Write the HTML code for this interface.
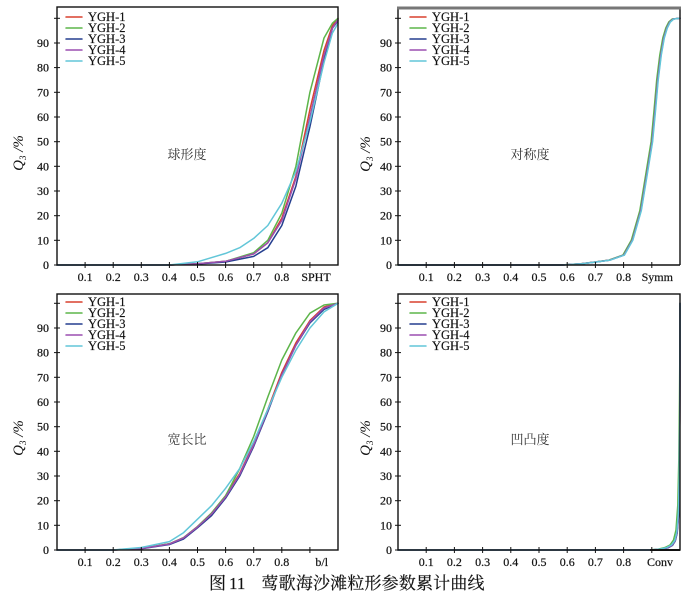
<!DOCTYPE html>
<html><head><meta charset="utf-8"><style>
html,body{margin:0;padding:0;background:#fff;}
svg{display:block;}
text{font-family:"Liberation Serif","Noto Serif CJK SC",serif;fill:#111;}
.tk{font-size:12px;stroke:#111;stroke-width:0.2;}
.lg{font-size:12.5px;stroke:#111;stroke-width:0.15;}
.cn{font-size:13px;fill:#333;font-family:"Liberation Serif","Noto Serif CJK SC",serif;}
.ax{stroke:#111;stroke-width:1.4;fill:none;}
.t{stroke:#111;stroke-width:1;}
.c{fill:none;stroke-width:1.5;stroke-linejoin:round;stroke-linecap:round;}
.r{stroke:#d9412f}.g{stroke:#5db54a}.b{stroke:#253f8f}.p{stroke:#9b4fb0}.y{stroke:#62c6d8}
</style></head><body>
<svg width="697" height="594" viewBox="0 0 697 594" xmlns="http://www.w3.org/2000/svg">

<!-- ============ TOP LEFT: SPHT ============ -->
<g>
<polyline class="c r" points="57,265 169.4,265 197.5,263.8 225.6,261.3 253.7,253.9 267.8,242.8 281.8,218.1 295.9,176.2 309.9,109.6 324,50.4 332.4,25.7 338,18.3"/>
<polyline class="c g" points="57,265 169.4,265 197.5,263.8 225.6,261.3 253.7,252.7 267.8,240.3 281.8,213.2 295.9,166.3 309.9,92.3 324,38 332.4,23.2 338,18.3"/>
<polyline class="c b" points="57,265 169.4,265 197.5,264 225.6,262 253.7,256.4 267.8,247.7 281.8,225.5 295.9,186.1 309.9,126.8 324,60.2 332.4,28.2 338,20.8"/>
<polyline class="c p" points="57,265 169.4,265 197.5,263.8 225.6,261.3 253.7,253.9 267.8,242.8 281.8,220.6 295.9,178.7 309.9,117 324,55.3 332.4,28.2 338,19.5"/>
<polyline class="c y" points="57,265 169.4,265 197.5,261.8 225.6,253.4 239.7,247.7 253.7,238.4 267.8,225.5 281.8,203.3 295.9,171.3 309.9,121.9 324,62.7 332.4,33.1 338,23.2"/>
<rect class="ax" x="57" y="7" width="281" height="258"/>
<g class="t">
<line x1="54" y1="265" x2="60" y2="265"/><line x1="54" y1="240.3" x2="60" y2="240.3"/><line x1="54" y1="215.7" x2="60" y2="215.7"/><line x1="54" y1="191" x2="60" y2="191"/><line x1="54" y1="166.3" x2="60" y2="166.3"/><line x1="54" y1="141.7" x2="60" y2="141.7"/><line x1="54" y1="117" x2="60" y2="117"/><line x1="54" y1="92.3" x2="60" y2="92.3"/><line x1="54" y1="67.6" x2="60" y2="67.6"/><line x1="54" y1="43" x2="60" y2="43"/><line x1="54" y1="18.3" x2="60" y2="18.3"/>
<line x1="85.1" y1="262" x2="85.1" y2="268"/><line x1="113.2" y1="262" x2="113.2" y2="268"/><line x1="141.3" y1="262" x2="141.3" y2="268"/><line x1="169.4" y1="262" x2="169.4" y2="268"/><line x1="197.5" y1="262" x2="197.5" y2="268"/><line x1="225.6" y1="262" x2="225.6" y2="268"/><line x1="253.7" y1="262" x2="253.7" y2="268"/><line x1="281.8" y1="262" x2="281.8" y2="268"/><line x1="309.9" y1="262" x2="309.9" y2="268"/>
</g>
<g class="tk" text-anchor="end">
<text x="49" y="269">0</text><text x="49" y="244.3">10</text><text x="49" y="219.7">20</text><text x="49" y="195">30</text><text x="49" y="170.3">40</text><text x="49" y="145.7">50</text><text x="49" y="121">60</text><text x="49" y="96.3">70</text><text x="49" y="71.6">80</text><text x="49" y="47">90</text>
</g>
<g class="tk" text-anchor="middle">
<text x="85.1" y="281">0.1</text><text x="113.2" y="281">0.2</text><text x="141.3" y="281">0.3</text><text x="169.4" y="281">0.4</text><text x="197.5" y="281">0.5</text><text x="225.6" y="281">0.6</text><text x="253.7" y="281">0.7</text><text x="281.8" y="281">0.8</text><text x="316" y="281">SPHT</text>
</g>
<text transform="translate(23,153) rotate(-90)" text-anchor="middle" font-size="15" font-style="italic">Q<tspan font-size="9" dy="3">3</tspan><tspan dy="-3"> /%</tspan></text>
<text class="cn" x="187" y="159" text-anchor="middle">球形度</text>
<g>
<line class="c r" x1="66" y1="17" x2="82" y2="17"/><text class="lg" x="88" y="21">YGH-1</text>
<line class="c g" x1="66" y1="28" x2="82" y2="28"/><text class="lg" x="88" y="32">YGH-2</text>
<line class="c b" x1="66" y1="39" x2="82" y2="39"/><text class="lg" x="88" y="43">YGH-3</text>
<line class="c p" x1="66" y1="50" x2="82" y2="50"/><text class="lg" x="88" y="54">YGH-4</text>
<line class="c y" x1="66" y1="61" x2="82" y2="61"/><text class="lg" x="88" y="65">YGH-5</text>
</g>
</g>

<!-- ============ TOP RIGHT: Symm ============ -->
<g>
<g><polyline class="c r" points="398,265 561.6,265 581.3,263.8 595.4,262 609.5,260.1 623.6,255.1 632,240.3 640.5,210.7 646.2,176 651.8,141.7 654.6,112 657.4,80 660.5,55 663.5,38 666.5,28 669.5,22 673,19 680,18.3"/></g>
<g transform="translate(-0.7,0)"><polyline class="c g" points="398,265 561.6,265 581.3,263.8 595.4,262 609.5,260.1 623.6,255.1 632,240.3 640.5,210.7 646.2,176 651.8,141.7 654.6,112 657.4,80 660.5,55 663.5,38 666.5,28 669.5,22 673,19 680.7,18.3"/></g>
<g transform="translate(0.5,0)"><polyline class="c b" points="397.5,265 561.6,265 581.3,263.8 595.4,262 609.5,260.1 623.6,255.1 632,240.3 640.5,210.7 646.2,176 651.8,141.7 654.6,112 657.4,80 660.5,55 663.5,38 666.5,28 669.5,22 673,19 679.5,18.3"/></g>
<g transform="translate(0.3,0)"><polyline class="c p" points="397.7,265 561.6,265 581.3,263.8 595.4,262 609.5,260.1 623.6,255.1 632,240.3 640.5,210.7 646.2,176 651.8,141.7 654.6,112 657.4,80 660.5,55 663.5,38 666.5,28 669.5,22 673,19 679.7,18.3"/></g>
<g transform="translate(0.8,0)"><polyline class="c y" points="397.2,265 561.6,265 581.3,263.8 595.4,262 609.5,260.1 623.6,255.1 632,240.3 640.5,210.7 646.2,176 651.8,141.7 654.6,112 657.4,80 660.5,55 663.5,38 666.5,28 669.5,22 673,19 679.2,18.3"/></g>
<line class="ax" x1="398" y1="8" x2="398" y2="265"/>
<line class="ax" x1="398" y1="265" x2="680" y2="265"/>
<line class="ax" x1="680" y1="9" x2="680" y2="265"/>
<line x1="397" y1="8" x2="681" y2="8" stroke="#777" stroke-width="3"/>
<g class="t">
<line x1="395" y1="265" x2="401" y2="265"/><line x1="395" y1="240.3" x2="401" y2="240.3"/><line x1="395" y1="215.7" x2="401" y2="215.7"/><line x1="395" y1="191" x2="401" y2="191"/><line x1="395" y1="166.3" x2="401" y2="166.3"/><line x1="395" y1="141.7" x2="401" y2="141.7"/><line x1="395" y1="117" x2="401" y2="117"/><line x1="395" y1="92.3" x2="401" y2="92.3"/><line x1="395" y1="67.6" x2="401" y2="67.6"/><line x1="395" y1="43" x2="401" y2="43"/><line x1="395" y1="18.3" x2="401" y2="18.3"/>
<line x1="426.2" y1="262" x2="426.2" y2="268"/><line x1="454.4" y1="262" x2="454.4" y2="268"/><line x1="482.6" y1="262" x2="482.6" y2="268"/><line x1="510.8" y1="262" x2="510.8" y2="268"/><line x1="539" y1="262" x2="539" y2="268"/><line x1="567.2" y1="262" x2="567.2" y2="268"/><line x1="595.4" y1="262" x2="595.4" y2="268"/><line x1="623.6" y1="262" x2="623.6" y2="268"/><line x1="651.8" y1="262" x2="651.8" y2="268"/>
</g>
<g class="tk" text-anchor="end">
<text x="392" y="269">0</text><text x="392" y="244.3">10</text><text x="392" y="219.7">20</text><text x="392" y="195">30</text><text x="392" y="170.3">40</text><text x="392" y="145.7">50</text><text x="392" y="121">60</text><text x="392" y="96.3">70</text><text x="392" y="71.6">80</text><text x="392" y="47">90</text>
</g>
<g class="tk" text-anchor="middle">
<text x="426.2" y="281">0.1</text><text x="454.4" y="281">0.2</text><text x="482.6" y="281">0.3</text><text x="510.8" y="281">0.4</text><text x="539" y="281">0.5</text><text x="567.2" y="281">0.6</text><text x="595.4" y="281">0.7</text><text x="623.6" y="281">0.8</text><text x="657.3" y="281">Symm</text>
</g>
<text transform="translate(370,154) rotate(-90)" text-anchor="middle" font-size="15" font-style="italic">Q<tspan font-size="9" dy="3">3</tspan><tspan dy="-3"> /%</tspan></text>
<text class="cn" x="530" y="159" text-anchor="middle">对称度</text>
<g>
<line class="c r" x1="410" y1="17" x2="426" y2="17"/><text class="lg" x="432" y="21">YGH-1</text>
<line class="c g" x1="410" y1="28" x2="426" y2="28"/><text class="lg" x="432" y="32">YGH-2</text>
<line class="c b" x1="410" y1="39" x2="426" y2="39"/><text class="lg" x="432" y="43">YGH-3</text>
<line class="c p" x1="410" y1="50" x2="426" y2="50"/><text class="lg" x="432" y="54">YGH-4</text>
<line class="c y" x1="410" y1="61" x2="426" y2="61"/><text class="lg" x="432" y="65">YGH-5</text>
</g>
</g>

<!-- ============ BOTTOM LEFT: b/l ============ -->
<g>
<polyline class="c r" points="57,550 113.2,550 141.3,548.5 169.4,543.8 183.5,537.7 197.5,526.6 211.6,513 225.6,495.7 239.7,473.5 253.7,443.9 267.8,409.4 281.8,372.4 295.9,342.8 309.9,320.6 324,307 338,303.3"/>
<polyline class="c g" points="57,550 113.2,550 141.3,548.5 169.4,543.8 183.5,537.7 197.5,526.6 211.6,513 225.6,495.7 239.7,468.6 253.7,436.5 267.8,397 281.8,360 295.9,332.9 309.9,313.2 324,305 338,303.3"/>
<polyline class="c b" points="57,550 113.2,550 141.3,548.8 169.4,544.5 183.5,539 197.5,527.8 211.6,515.5 225.6,498.2 239.7,476 253.7,446.4 267.8,411.8 281.8,374.8 295.9,345.2 309.9,323 324,309.5 338,303.3"/>
<polyline class="c p" points="57,550 113.2,550 141.3,548.5 169.4,544 183.5,538 197.5,527 211.6,514 225.6,497 239.7,474.5 253.7,445 267.8,410.5 281.8,374.8 295.9,345.2 309.9,321.8 324,308 338,303.3"/>
<polyline class="c y" points="57,550 113.2,550 141.3,547.5 169.4,541.6 183.5,532.7 197.5,519.2 211.6,505.6 225.6,488.3 239.7,468.6 253.7,441.5 267.8,409.4 281.8,377.3 295.9,350.2 309.9,328 324,311.9 338,303.3"/>
<rect class="ax" x="57" y="294" width="281" height="256"/>
<g class="t">
<line x1="54" y1="550" x2="60" y2="550"/><line x1="54" y1="525.3" x2="60" y2="525.3"/><line x1="54" y1="500.7" x2="60" y2="500.7"/><line x1="54" y1="476" x2="60" y2="476"/><line x1="54" y1="451.3" x2="60" y2="451.3"/><line x1="54" y1="426.7" x2="60" y2="426.7"/><line x1="54" y1="402" x2="60" y2="402"/><line x1="54" y1="377.3" x2="60" y2="377.3"/><line x1="54" y1="352.6" x2="60" y2="352.6"/><line x1="54" y1="328" x2="60" y2="328"/><line x1="54" y1="303.3" x2="60" y2="303.3"/>
<line x1="85.1" y1="547" x2="85.1" y2="553"/><line x1="113.2" y1="547" x2="113.2" y2="553"/><line x1="141.3" y1="547" x2="141.3" y2="553"/><line x1="169.4" y1="547" x2="169.4" y2="553"/><line x1="197.5" y1="547" x2="197.5" y2="553"/><line x1="225.6" y1="547" x2="225.6" y2="553"/><line x1="253.7" y1="547" x2="253.7" y2="553"/><line x1="281.8" y1="547" x2="281.8" y2="553"/><line x1="309.9" y1="547" x2="309.9" y2="553"/>
</g>
<g class="tk" text-anchor="end">
<text x="49" y="554">0</text><text x="49" y="529.3">10</text><text x="49" y="504.7">20</text><text x="49" y="480">30</text><text x="49" y="455.3">40</text><text x="49" y="430.7">50</text><text x="49" y="406">60</text><text x="49" y="381.3">70</text><text x="49" y="356.6">80</text><text x="49" y="332">90</text>
</g>
<g class="tk" text-anchor="middle">
<text x="85.1" y="566">0.1</text><text x="113.2" y="566">0.2</text><text x="141.3" y="566">0.3</text><text x="169.4" y="566">0.4</text><text x="197.5" y="566">0.5</text><text x="225.6" y="566">0.6</text><text x="253.7" y="566">0.7</text><text x="281.8" y="566">0.8</text><text x="321.7" y="566">b/l</text>
</g>
<text transform="translate(23,438) rotate(-90)" text-anchor="middle" font-size="15" font-style="italic">Q<tspan font-size="9" dy="3">3</tspan><tspan dy="-3"> /%</tspan></text>
<text class="cn" x="187" y="444" text-anchor="middle">宽长比</text>
<g>
<line class="c r" x1="66" y1="302" x2="82" y2="302"/><text class="lg" x="88" y="306">YGH-1</text>
<line class="c g" x1="66" y1="313" x2="82" y2="313"/><text class="lg" x="88" y="317">YGH-2</text>
<line class="c b" x1="66" y1="324" x2="82" y2="324"/><text class="lg" x="88" y="328">YGH-3</text>
<line class="c p" x1="66" y1="335" x2="82" y2="335"/><text class="lg" x="88" y="339">YGH-4</text>
<line class="c y" x1="66" y1="346" x2="82" y2="346"/><text class="lg" x="88" y="350">YGH-5</text>
</g>
</g>

<!-- ============ BOTTOM RIGHT: Conv ============ -->
<g>
<polyline class="c r" points="398,550 650,550 660,549.3 667,547.8 672,545.3 675,541 677,533 678.5,515 679.3,480 679.8,420 680,350 680,303.3"/>
<polyline class="c g" points="398,550 648,550 658,549.2 665,547.5 670,545 673.5,540 676,530 677.8,505 678.8,460 679.5,400 680,330 680,303.3"/>
<polyline class="c b" points="398,550 651,550 661,549.3 668,547.8 672.5,545.3 675.3,541 677.2,533 678.7,515 679.4,480 679.8,420 680,350 680,303.3"/>
<polyline class="c p" points="398,550 650,550 660,549.3 667,547.8 672,545.3 675,541 677,533 678.5,515 679.3,480 679.8,420 680,350 680,303.3"/>
<polyline class="c y" points="398,550 649,550 659,549.3 666.5,547.6 671.5,545 674.8,540.5 676.8,532 678.4,512 679.3,475 679.8,410 680,340 680,303.3"/>
<rect class="ax" x="398" y="294" width="282" height="256"/>
<line x1="650" y1="550" x2="680" y2="550" stroke="#111" stroke-width="2"/>
<g class="t">
<line x1="395" y1="550" x2="401" y2="550"/><line x1="395" y1="525.3" x2="401" y2="525.3"/><line x1="395" y1="500.7" x2="401" y2="500.7"/><line x1="395" y1="476" x2="401" y2="476"/><line x1="395" y1="451.3" x2="401" y2="451.3"/><line x1="395" y1="426.7" x2="401" y2="426.7"/><line x1="395" y1="402" x2="401" y2="402"/><line x1="395" y1="377.3" x2="401" y2="377.3"/><line x1="395" y1="352.6" x2="401" y2="352.6"/><line x1="395" y1="328" x2="401" y2="328"/><line x1="395" y1="303.3" x2="401" y2="303.3"/>
<line x1="426.2" y1="547" x2="426.2" y2="553"/><line x1="454.4" y1="547" x2="454.4" y2="553"/><line x1="482.6" y1="547" x2="482.6" y2="553"/><line x1="510.8" y1="547" x2="510.8" y2="553"/><line x1="539" y1="547" x2="539" y2="553"/><line x1="567.2" y1="547" x2="567.2" y2="553"/><line x1="595.4" y1="547" x2="595.4" y2="553"/><line x1="623.6" y1="547" x2="623.6" y2="553"/><line x1="651.8" y1="547" x2="651.8" y2="553"/>
</g>
<g class="tk" text-anchor="end">
<text x="392" y="554">0</text><text x="392" y="529.3">10</text><text x="392" y="504.7">20</text><text x="392" y="480">30</text><text x="392" y="455.3">40</text><text x="392" y="430.7">50</text><text x="392" y="406">60</text><text x="392" y="381.3">70</text><text x="392" y="356.6">80</text><text x="392" y="332">90</text>
</g>
<g class="tk" text-anchor="middle">
<text x="426.2" y="566">0.1</text><text x="454.4" y="566">0.2</text><text x="482.6" y="566">0.3</text><text x="510.8" y="566">0.4</text><text x="539" y="566">0.5</text><text x="567.2" y="566">0.6</text><text x="595.4" y="566">0.7</text><text x="623.6" y="566">0.8</text><text x="660" y="566">Conv</text>
</g>
<text transform="translate(370,438) rotate(-90)" text-anchor="middle" font-size="15" font-style="italic">Q<tspan font-size="9" dy="3">3</tspan><tspan dy="-3"> /%</tspan></text>
<text class="cn" x="530" y="444" text-anchor="middle">凹凸度</text>
<g>
<line class="c r" x1="410" y1="302" x2="426" y2="302"/><text class="lg" x="432" y="306">YGH-1</text>
<line class="c g" x1="410" y1="313" x2="426" y2="313"/><text class="lg" x="432" y="317">YGH-2</text>
<line class="c b" x1="410" y1="324" x2="426" y2="324"/><text class="lg" x="432" y="328">YGH-3</text>
<line class="c p" x1="410" y1="335" x2="426" y2="335"/><text class="lg" x="432" y="339">YGH-4</text>
<line class="c y" x1="410" y1="346" x2="426" y2="346"/><text class="lg" x="432" y="350">YGH-5</text>
</g>
</g>

<!-- caption -->
<text x="209" y="589" font-size="17" fill="#222" stroke="#222" stroke-width="0.2">图</text>
<text x="229" y="589" font-size="17" fill="#222" stroke="#222" stroke-width="0.2">11</text>
<text x="261.5" y="589" font-size="17" fill="#222" stroke="#222" stroke-width="0.2" textLength="223" lengthAdjust="spacing">莺歌海沙滩粒形参数累计曲线</text>
</svg>
</body></html>
